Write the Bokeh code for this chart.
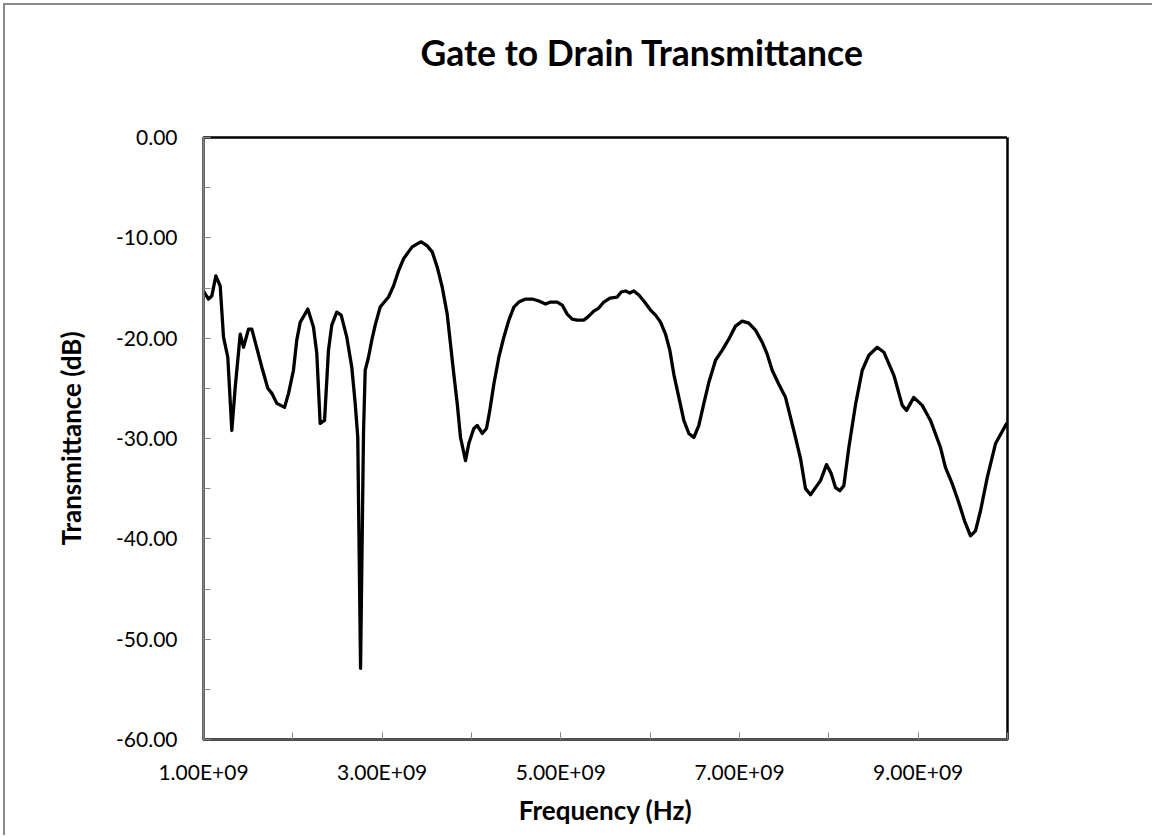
from bokeh.plotting import figure
from bokeh.models import (Range1d, FixedTicker, NumeralTickFormatter,
                          CustomJSTickFormatter, LinearAxis, Title)
from bokeh.embed import file_html
from bokeh.resources import INLINE

# Measured gate-to-drain transmittance
freq_ghz = [
    1.000, 1.056, 1.093, 1.138, 1.187, 1.224, 1.272, 1.317, 1.355, 1.411,
    1.448, 1.504, 1.541, 1.597, 1.653, 1.720, 1.765, 1.821, 1.907, 1.952,
    2.007, 2.044, 2.083, 2.168, 2.231, 2.268, 2.306, 2.355, 2.399, 2.436,
    2.492, 2.541, 2.604, 2.660, 2.698, 2.727, 2.758, 2.791, 2.810, 2.847,
    2.884, 2.922, 2.978, 3.071, 3.127, 3.183, 3.239, 3.295, 3.336, 3.392,
    3.437, 3.504, 3.560, 3.616, 3.672, 3.728, 3.765, 3.802, 3.840, 3.877,
    3.933, 3.970, 4.026, 4.064, 4.120, 4.168, 4.205, 4.250, 4.306, 4.362,
    4.418, 4.474, 4.530, 4.605, 4.680, 4.754, 4.829, 4.884, 4.959, 5.015,
    5.071, 5.127, 5.183, 5.257, 5.313, 5.369, 5.425, 5.481, 5.550, 5.631,
    5.676, 5.724, 5.772, 5.817, 5.873, 5.929, 6.004, 6.060, 6.116, 6.172,
    6.220, 6.265, 6.321, 6.377, 6.433, 6.489, 6.545, 6.601, 6.657, 6.732,
    6.807, 6.880, 6.955, 7.030, 7.104, 7.179, 7.254, 7.310, 7.366, 7.440,
    7.515, 7.571, 7.627, 7.683, 7.739, 7.795, 7.851, 7.907, 7.974, 8.027,
    8.075, 8.123, 8.168, 8.224, 8.299, 8.374, 8.448, 8.542, 8.616, 8.728,
    8.822, 8.870, 8.951, 9.045, 9.138, 9.250, 9.306, 9.381, 9.455, 9.519,
    9.586, 9.642, 9.698, 9.773, 9.866, 9.978, 10.000,
]
transmittance_db = [
    -15.3, -16.1, -15.8, -13.8, -14.8, -19.9, -21.9, -29.2, -24.9, -19.6,
    -20.9, -19.1, -19.1, -21.0, -22.9, -25.0, -25.5, -26.5, -26.9, -25.5,
    -23.2, -20.2, -18.4, -17.1, -18.9, -21.5, -28.5, -28.2, -21.2, -18.7,
    -17.4, -17.7, -19.9, -22.9, -26.5, -29.9, -52.9, -29.5, -23.2, -21.9,
    -20.2, -18.7, -16.9, -15.9, -14.8, -13.3, -12.1, -11.4, -10.9, -10.6,
    -10.4, -10.8, -11.4, -12.9, -14.9, -17.6, -20.6, -23.6, -26.5, -29.9,
    -32.2, -30.5, -29.0, -28.7, -29.5, -29.0, -27.2, -24.6, -21.9, -19.9,
    -18.2, -16.9, -16.4, -16.1, -16.1, -16.3, -16.6, -16.4, -16.4, -16.7,
    -17.6, -18.1, -18.2, -18.2, -17.8, -17.3, -17.0, -16.4, -16.0, -15.9,
    -15.4, -15.3, -15.5, -15.3, -15.7, -16.3, -17.2, -17.7, -18.4, -19.6,
    -21.2, -23.6, -25.9, -28.2, -29.5, -29.9, -28.7, -26.5, -24.4, -22.2,
    -21.2, -20.1, -18.8, -18.3, -18.5, -19.2, -20.4, -21.6, -23.2, -24.6,
    -25.9, -27.9, -29.9, -32.0, -35.0, -35.6, -34.9, -34.2, -32.6, -33.5,
    -34.9, -35.2, -34.7, -30.9, -26.6, -23.2, -21.7, -20.9, -21.4, -23.7,
    -26.7, -27.2, -25.9, -26.7, -28.2, -30.9, -32.9, -34.5, -36.4, -38.2,
    -39.7, -39.2, -37.2, -33.9, -30.5, -28.7, -28.4,
]

# Axis ticks
x_label_ticks = [1e9, 3e9, 5e9, 7e9, 9e9]
x_minor_ticks = [1e9, 2e9, 3e9, 4e9, 5e9, 6e9, 7e9, 8e9, 9e9, 1e10]
y_label_ticks = [0, -10, -20, -30, -40, -50, -60]
y_minor_ticks = [0, -5, -10, -15, -20, -25, -30, -35, -40, -45, -50, -55, -60]

freq_hz = [f * 1e9 for f in freq_ghz]

FONT = "Lato"
AXIS_GREY = "#868686"

p = figure(
    width=1149, height=832,
    output_backend="svg", toolbar_location=None,
    x_range=Range1d(1e9, 1e10), y_range=Range1d(-60, 0),
    min_border_left=198, min_border_right=147,
    min_border_top=132, min_border_bottom=98,
)
p.styles = {"border-left": "2px solid #8a8a8a", "border-top": "2px solid #8a8a8a",
            "margin-left": "3px", "margin-top": "3px"}

# blank band between the plot frame and the title (white tick on white)
gap = LinearAxis(
    ticker=FixedTicker(ticks=[1e10], minor_ticks=[]), axis_label=None,
    formatter=CustomJSTickFormatter(code="return ''"),
    major_tick_out=59, major_tick_in=0, minor_tick_out=0, minor_tick_in=0,
    major_label_standoff=0,
    axis_line_alpha=0,
    major_tick_line_color="white", major_tick_line_width=1,
)
p.add_layout(gap, "above")

chart_title = Title(
    text="Gate to Drain Transmittance",
    align="left", offset=217, vertical_align="bottom", standoff=10,
    text_font=FONT, text_font_size="35.5px", text_font_style="bold",
    text_color="black",
)
p.add_layout(chart_title, "above")

p.grid.visible = False
p.outline_line_color = "black"
p.outline_line_width = 2.5
p.background_fill_color = "white"
p.border_fill_color = "white"

p.line(freq_hz, transmittance_db, line_color="black", line_width=3.3,
       line_join="round")

# x axis
xa = p.below[0]
xa.ticker = FixedTicker(ticks=x_label_ticks, minor_ticks=x_minor_ticks)
xa.formatter = CustomJSTickFormatter(code="""
    const s = tick.toExponential(2).toUpperCase();
    const parts = s.split('E');
    const sign = parts[1][0];
    let d = parts[1].slice(1);
    if (d.length < 2) { d = '0' + d; }
    return parts[0] + 'E' + sign + d;
""")
xa.axis_label = "Frequency (Hz)"
xa.axis_line_color = "#595959"
xa.axis_line_width = 2
xa.major_tick_in = 7
xa.major_tick_out = 0
xa.minor_tick_in = 7
xa.minor_tick_out = 0
xa.major_tick_line_color = AXIS_GREY
xa.minor_tick_line_color = AXIS_GREY
xa.major_label_standoff = 19
xa.major_label_text_font = FONT
xa.major_label_text_font_size = "21px"
xa.major_label_text_color = "black"
xa.axis_label_text_font = FONT
xa.axis_label_text_font_size = "26px"
xa.axis_label_text_font_style = "bold"
xa.axis_label_text_color = "black"
xa.axis_label_standoff = 7

# y axis
ya = p.left[0]
ya.ticker = FixedTicker(ticks=y_label_ticks, minor_ticks=y_minor_ticks)
ya.formatter = NumeralTickFormatter(format="0.00")
ya.axis_label = "Transmittance (dB)"
ya.axis_line_color = AXIS_GREY
ya.axis_line_width = 2
ya.major_tick_in = 7
ya.major_tick_out = 0
ya.minor_tick_in = 7
ya.minor_tick_out = 0
ya.major_tick_line_color = AXIS_GREY
ya.minor_tick_line_color = AXIS_GREY
ya.major_label_standoff = 26
ya.major_label_text_font = FONT
ya.major_label_text_font_size = "21px"
ya.major_label_text_color = "black"
ya.axis_label_text_font = FONT
ya.axis_label_text_font_size = "26px"
ya.axis_label_text_font_style = "bold"
ya.axis_label_text_color = "black"
ya.axis_label_standoff = 26

open("out.html", "w").write(file_html(p, INLINE))
